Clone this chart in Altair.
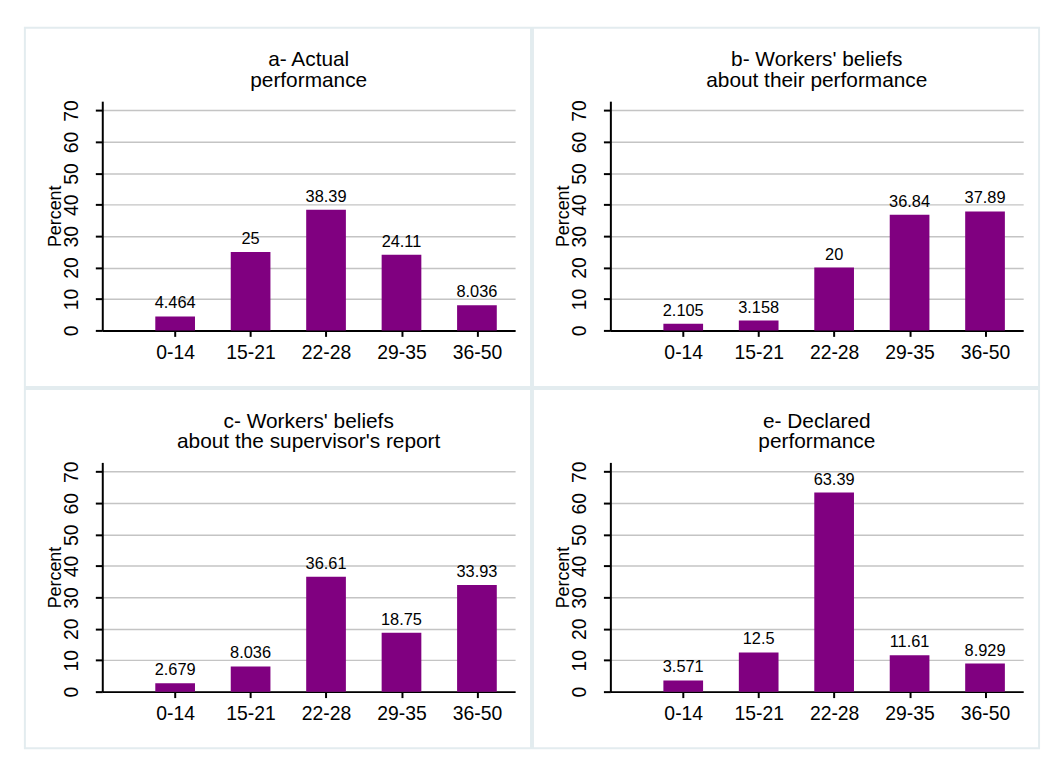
import json
import altair as alt
import pandas as pd

categories = ["0-14", "15-21", "22-28", "29-35", "36-50"]
actual = [4.464, 25, 38.39, 24.11, 8.036]
beliefs_own = [2.105, 3.158, 20, 36.84, 37.89]
beliefs_supervisor = [2.679, 8.036, 36.61, 18.75, 33.93]
declared = [3.571, 12.5, 63.39, 11.61, 8.929]
panel_titles = [
    ["a- Actual", "performance"],
    ["b- Workers' beliefs", "about their performance"],
    ["c- Workers' beliefs", "about the supervisor's report"],
    ["e- Declared", "performance"],
]
y_ticks = [0, 10, 20, 30, 40, 50, 60, 70]
y_label = "Percent"

FONT = "Liberation Sans"
PURPLE = "#800080"
CELL_W, CELL_H = 510, 362
X0, X1 = 78, 494
Y0, Y1 = 305, 74

label_expr = json.dumps(categories) + "[datum.value - 1]"
positions = list(range(1, len(categories) + 1))


def panel(values, title):
    df = pd.DataFrame({"pos": positions, "value": values, "cat": categories})
    xs = alt.Scale(domain=[0.1, 5.44], range=[X0, X1], nice=False, zero=False)
    ys = alt.Scale(domain=[0, 73], range=[Y0, Y1], nice=False, zero=True)
    x_axis = alt.Axis(
        values=positions, labelExpr=label_expr, title=None, grid=False,
        offset=-(CELL_H - Y0), tickSize=6, tickWidth=2, tickColor="black",
        domainColor="black", domainWidth=2, labelFontSize=19.5, labelFont=FONT,
        labelColor="black", labelPadding=7, labelFlush=False, labelOverlap=False,
    )
    y_axis = alt.Axis(
        values=y_ticks, title=y_label, grid=True, gridColor="#c4c4c4", gridWidth=1.5,
        offset=-X0, tickSize=7, tickWidth=2, tickColor="black",
        domainColor="black", domainWidth=2, labelFontSize=19.5, labelFont=FONT,
        labelColor="black", labelAngle=270, labelAlign="center", labelBaseline="bottom",
        labelPadding=14, labelFlush=False, labelOverlap=False,
        titleFont=FONT, titleFontSize=18, titleFontWeight="normal", titleColor="black",
        titlePadding=-3,
    )
    bars = alt.Chart(df).mark_bar(size=40, color=PURPLE, orient="vertical").encode(
        x=alt.X("pos:Q", scale=xs, axis=x_axis),
        y=alt.Y("value:Q", scale=ys, axis=y_axis),
    )
    text = alt.Chart(df).mark_text(
        baseline="alphabetic", dy=-8, fontSize=16.5, font=FONT, color="black"
    ).encode(
        x=alt.X("pos:Q"),
        y=alt.Y("value:Q"),
        text=alt.Text("value:Q", format=".4~r"),
    )
    return alt.layer(bars, text).properties(
        width=CELL_W, height=CELL_H,
        title=alt.TitleParams(
            text=title, font=FONT, fontSize=21, fontWeight="normal", color="black",
            lineHeight=21, anchor="middle", frame="group", dx=31, offset=-64,
        ),
    )


p = [panel(v, t) for v, t in zip([actual, beliefs_own, beliefs_supervisor, declared], panel_titles)]
chart = alt.vconcat(
    alt.hconcat(p[0], p[1], spacing=0),
    alt.hconcat(p[2], p[3], spacing=0),
    spacing=0,
).properties(
    padding={"left": 16, "top": 16, "right": 8, "bottom": 8},
    background="white",
).configure_view(stroke="#e3ecef", strokeWidth=2)

chart.save("out.html", embed_options={"renderer": "svg", "actions": False})
